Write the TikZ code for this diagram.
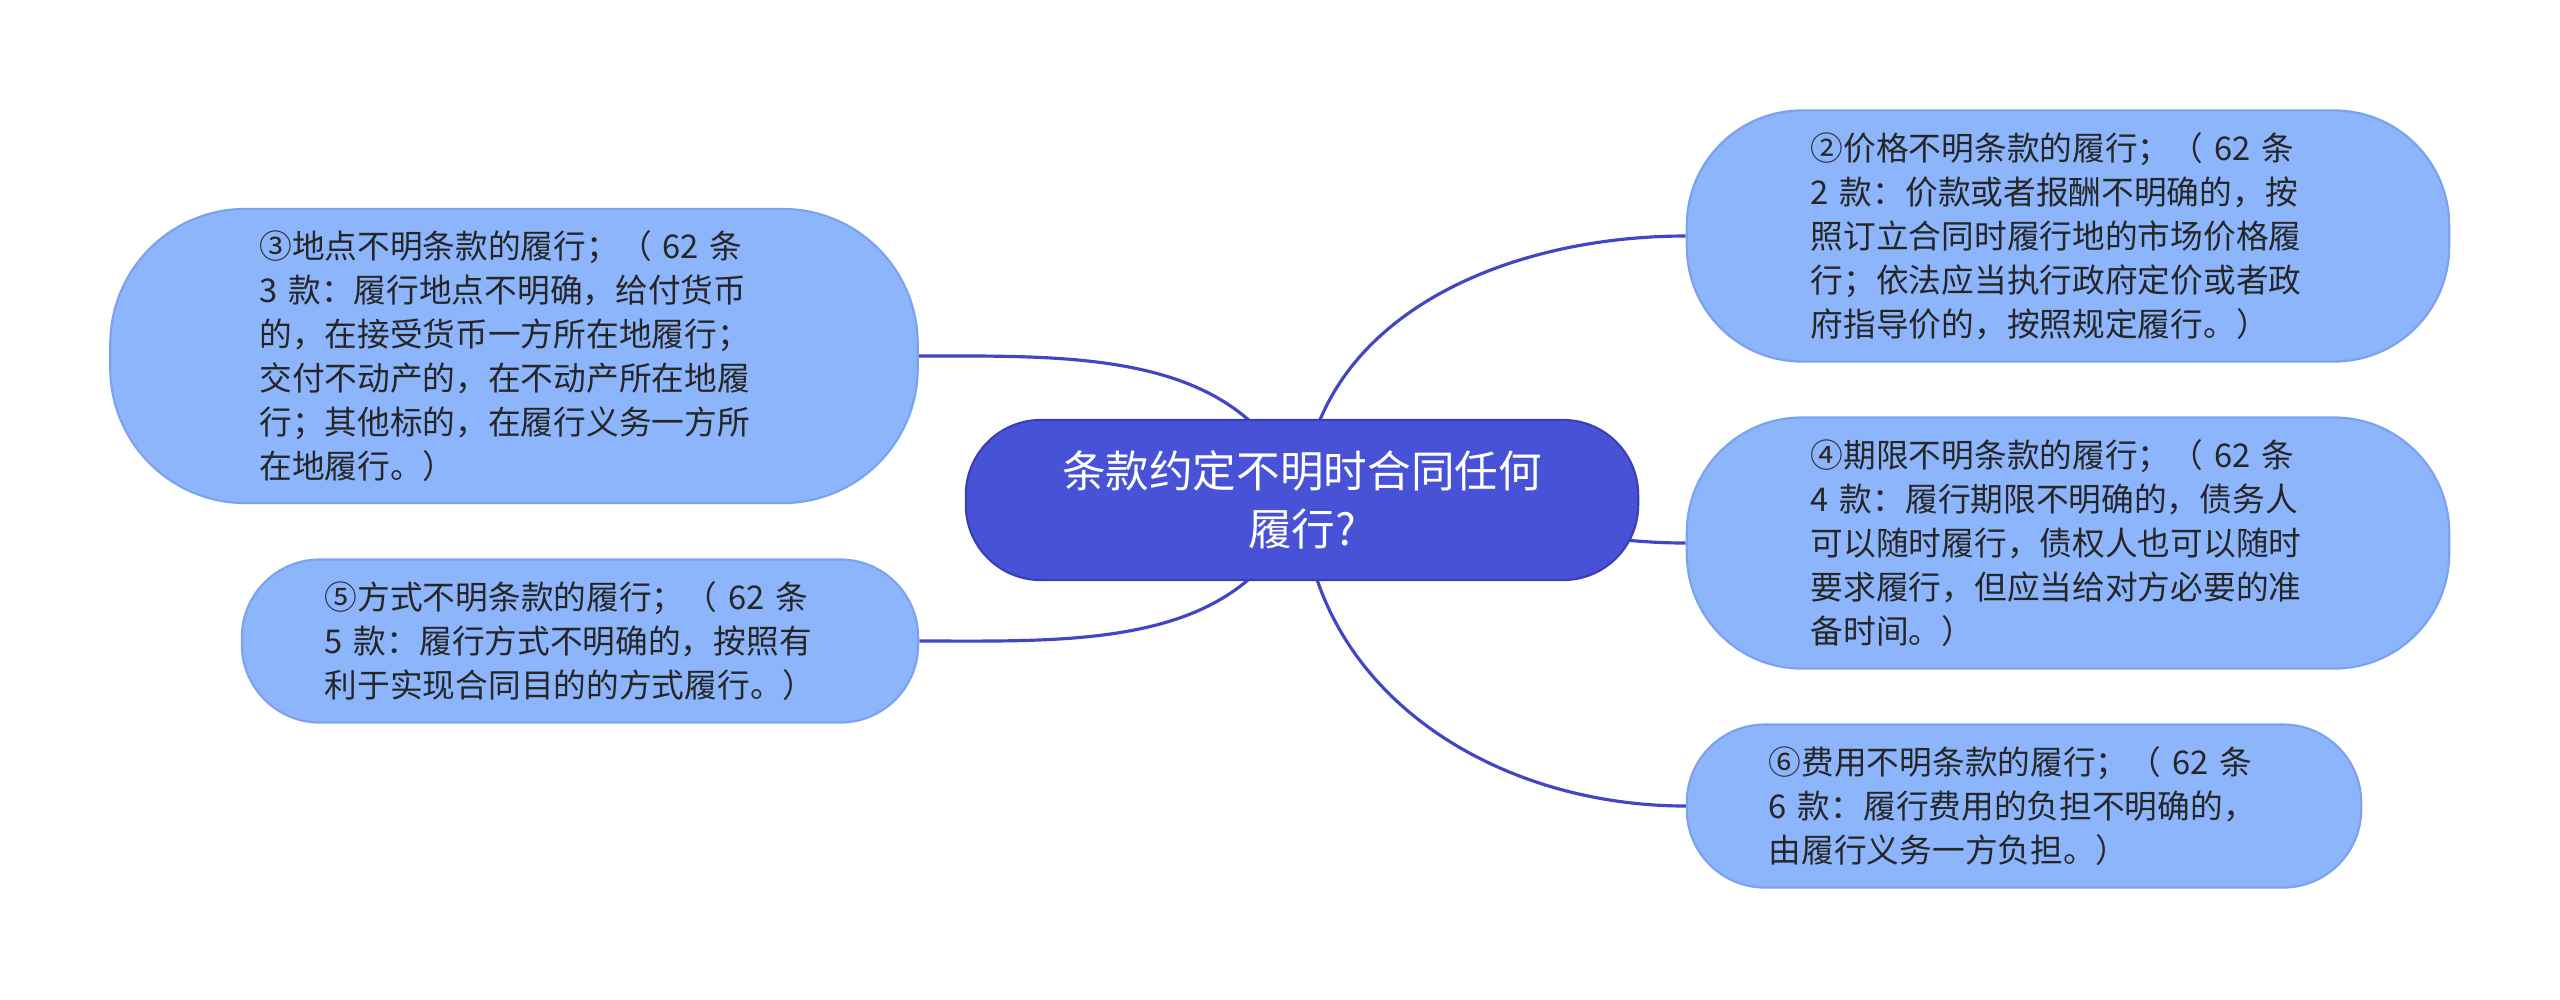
\documentclass[tikz,border=0pt]{standalone}
\usepackage{fontspec}
\setmainfont{Noto Sans CJK SC}
\usetikzlibrary{backgrounds}
\definecolor{colorRoot}{RGB}{72, 82, 214}
\definecolor{colorRootEdge}{RGB}{58, 64, 178}
\definecolor{colorLeaf}{RGB}{141, 181, 251}
\definecolor{colorLeafEdge}{RGB}{122, 162, 238}
\definecolor{colorLink}{RGB}{66, 70, 196}
\definecolor{colorText}{RGB}{38, 38, 38}

\begin{document}
\begin{tikzpicture}[x=0.01cm, y=-0.01cm,
  root/.style={draw=colorRootEdge, line width=0.6pt, fill=colorRoot,
    rounded corners=0.75cm, minimum width=6.72cm, minimum height=1.6cm,
    align=center, text=white, font=\fontsize{12.4pt}{16.5pt}\selectfont},
  leaf/.style={draw=colorLeafEdge, line width=0.6pt, fill=colorLeaf,
    rounded corners=#1, align=left, text=colorText,
    font=\fontsize{9.3pt}{12.5pt}\selectfont},
  leaf/.default=1.15cm,
  link/.style={draw=colorLink, line width=0.9pt},
]

% Bounding box
\useasboundingbox (0,0) rectangle (2560,999);

% Root
\node[root] (root) at (1302,500) {条款约定不明时合同任何\\履行?};

% Left branches
\node[leaf=1.35cm, minimum height=2.94cm, inner xsep=1.49cm, text width=5.09cm]
  (place) at (514,356) {③地点不明条款的履行；（ 62 条\\3 款：履行地点不明确，给付货币\\的，在接受货币一方所在地履行；\\交付不动产的，在不动产所在地履\\行；其他标的，在履行义务一方所\\在地履行。）};
\node[leaf=0.78cm, minimum height=1.63cm, inner xsep=0.83cm, text width=5.10cm]
  (manner) at (580,641) {⑤方式不明条款的履行；（ 62 条\\5 款：履行方式不明确的，按照有\\利于实现合同目的的方式履行。）};

% Right branches
\node[leaf, minimum height=2.51cm, inner xsep=1.24cm, text width=5.14cm]
  (price) at (2068,236) {②价格不明条款的履行；（ 62 条\\2 款：价款或者报酬不明确的，按\\照订立合同时履行地的市场价格履\\行；依法应当执行政府定价或者政\\府指导价的，按照规定履行。）};
\node[leaf, minimum height=2.51cm, inner xsep=1.24cm, text width=5.14cm]
  (term) at (2068,543) {④期限不明条款的履行；（ 62 条\\4 款：履行期限不明确的，债务人\\可以随时履行，债权人也可以随时\\要求履行，但应当给对方必要的准\\备时间。）};
\node[leaf=0.78cm, minimum height=1.63cm, inner xsep=0.82cm, text width=5.10cm]
  (cost) at (2024,806) {⑥费用不明条款的履行；（ 62 条\\6 款：履行费用的负担不明确的，\\由履行义务一方负担。）};

% Connectors
\begin{pgfonlayer}{background}
  \fill[white] (0,0) rectangle (2560,999);
  \draw[link] (root.center) to[out=110,in=0] (place.east);
  \draw[link] (root.center) to[out=-110,in=0] (manner.east);
  \draw[link] (root.center) to[out=87,in=180] (price.west);
  \draw[link] (root.center) to[out=5,in=180] (term.west);
  \draw[link] (root.center) to[out=-87,in=180] (cost.west);
\end{pgfonlayer}

\end{tikzpicture}
\end{document}
